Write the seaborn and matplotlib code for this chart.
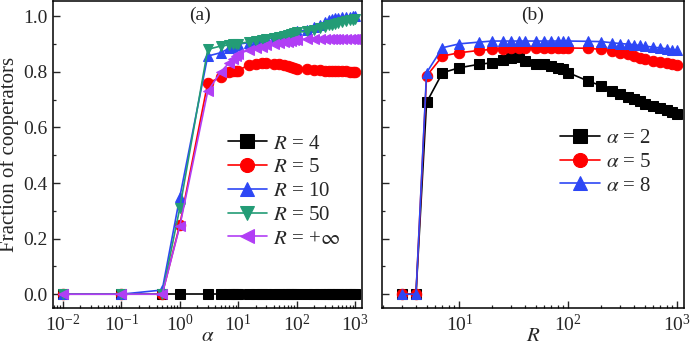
import numpy as np
import pandas as pd
import matplotlib
matplotlib.use("Agg")
import matplotlib.pyplot as plt
from matplotlib.ticker import LogLocator, MultipleLocator, NullFormatter
import seaborn as sns

# ---------------- data: panel (a) ----------------
alpha = [0.01, 0.1, 0.5, 1, 3, 5, 7, 8, 9, 10, 15, 20, 25, 30, 40, 50, 60, 70, 80, 90, 100,
         150, 200, 250, 300, 350, 400, 450, 500, 600, 700, 800, 900, 1000]
r4 = [0.0] * len(alpha)
r5 = [0.0, 0.0, 0.0, 0.25, 0.76, 0.78, 0.80, 0.805, 0.805, 0.805, 0.825, 0.83, 0.832, 0.832, 0.83, 0.827,
      0.824, 0.821, 0.818, 0.815, 0.812, 0.81, 0.808, 0.806, 0.805, 0.804, 0.804, 0.803, 0.803, 0.802,
      0.802, 0.801, 0.801, 0.80]
r10 = [0.0, 0.0, 0.015, 0.35, 0.857, 0.869, 0.885, 0.89, 0.895, 0.90, 0.905, 0.91, 0.915, 0.918, 0.922,
       0.926, 0.93, 0.934, 0.938, 0.942, 0.946, 0.95, 0.96, 0.97, 0.978, 0.985, 0.99, 0.993, 0.995, 0.997,
       0.998, 0.999, 1.0, 1.0]
r50 = [0.0, 0.0, 0.0, 0.31, 0.881, 0.893, 0.897, 0.899, 0.90, 0.902, 0.908, 0.912, 0.916, 0.919, 0.923,
       0.927, 0.93, 0.933, 0.936, 0.939, 0.942, 0.946, 0.952, 0.958, 0.963, 0.967, 0.97, 0.973, 0.976,
       0.979, 0.982, 0.985, 0.987, 0.99]
rinf = [0.0, 0.0, 0.0, 0.245, 0.73, 0.80, 0.833, 0.845, 0.857, 0.865, 0.878, 0.885, 0.89, 0.895, 0.90,
        0.903, 0.906, 0.909, 0.912, 0.914, 0.916, 0.918, 0.919, 0.92, 0.92, 0.92, 0.92, 0.92, 0.92, 0.92,
        0.92, 0.92, 0.92, 0.92]

# ---------------- data: panel (b) ----------------
R = [3, 4, 5, 7, 10, 15, 20, 25, 30, 35, 40, 50, 60, 70, 80, 90, 100, 150, 200, 250, 300, 350, 400,
     450, 500, 600, 700, 800, 900, 1000]
a2 = [0.0, 0.0, 0.69, 0.797, 0.815, 0.827, 0.833, 0.842, 0.849, 0.853, 0.839, 0.827, 0.829, 0.821,
      0.813, 0.809, 0.797, 0.768, 0.75, 0.732, 0.722, 0.71, 0.702, 0.694, 0.684, 0.678, 0.67, 0.663,
      0.657, 0.648]
a5 = [0.0, 0.0, 0.785, 0.857, 0.869, 0.877, 0.881, 0.884, 0.885, 0.885, 0.885, 0.885, 0.886, 0.886,
      0.886, 0.886, 0.886, 0.885, 0.881, 0.875, 0.869, 0.863, 0.857, 0.851, 0.845, 0.839, 0.835, 0.831,
      0.827, 0.824]
a8 = [0.0, 0.0, 0.797, 0.887, 0.901, 0.907, 0.911, 0.911, 0.911, 0.911, 0.911, 0.911, 0.911, 0.911,
      0.911, 0.911, 0.911, 0.91, 0.909, 0.905, 0.902, 0.90, 0.898, 0.895, 0.893, 0.889, 0.886, 0.883,
      0.880, 0.877]

labels_a = [r"$R$ = 4", r"$R$ = 5", r"$R$ = 10", r"$R$ = 50", r"$R$ = +$\infty$"]
labels_b = [r"$\alpha$ = 2", r"$\alpha$ = 5", r"$\alpha$ = 8"]

sns.set_style("ticks")
plt.rcParams["font.serif"] = ["Liberation Serif", "Times New Roman", "DejaVu Serif"]
plt.rcParams["font.family"] = "serif"
plt.rcParams["mathtext.fontset"] = "stix"
plt.rcParams["xtick.direction"] = "in"
plt.rcParams["ytick.direction"] = "in"

fig = plt.figure(figsize=(6.92, 3.45), dpi=100)
ax1 = fig.add_axes([0.0766, 0.107, 0.4465, 0.89])
ax2 = fig.add_axes([0.552, 0.107, 0.4364, 0.89])

col_black = "#000000"
col_red = "#FF0000"
col_blue = "#2D47F5"
col_green = "#239C76"
col_purple = "#B13EF5"

ms = 7.5
lw = 1.2
series_a = [(r4, col_black, "s"), (r5, col_red, "o"), (r10, col_blue, "^"),
            (r50, col_green, "v"), (rinf, col_purple, "<")]
for (vals, c, m), lab in zip(series_a, labels_a):
    df = pd.DataFrame({"x": alpha, "y": vals})
    sns.lineplot(data=df, x="x", y="y", ax=ax1, color=c, marker=m, markersize=ms,
                 markeredgecolor=c, linewidth=lw, label=lab, estimator=None, sort=True)

series_b = [(a2, col_black, "s"), (a5, col_red, "o"), (a8, col_blue, "^")]
for (vals, c, m), lab in zip(series_b, labels_b):
    df = pd.DataFrame({"x": R, "y": vals})
    sns.lineplot(data=df, x="x", y="y", ax=ax2, color=c, marker=m, markersize=ms,
                 markeredgecolor=c, linewidth=lw, label=lab, estimator=None, sort=True)

for ax in (ax1, ax2):
    ax.set_xscale("log")
    ax.set_ylim(-0.05, 1.055)
    ax.yaxis.set_major_locator(MultipleLocator(0.2))
    ax.yaxis.set_minor_locator(MultipleLocator(0.1))
    ax.xaxis.set_minor_locator(LogLocator(base=10, subs=np.arange(2, 10), numticks=20))
    ax.xaxis.set_minor_formatter(NullFormatter())
    ax.tick_params(which="major", length=5, width=1.0, labelsize=14, top=False, right=False, pad=4)
    ax.tick_params(which="minor", length=2.5, width=0.9, top=False, right=False)
    for s in ax.spines.values():
        s.set_linewidth(1.1)
        s.set_color("black")

ax1.set_xlim(0.0068, 1300)
ax1.xaxis.set_major_locator(LogLocator(base=10, numticks=20))
ax1.set_yticks([0.0, 0.2, 0.4, 0.6, 0.8, 1.0])
ax1.set_yticklabels(["0.0", "0.2", "0.4", "0.6", "0.8", "1.0"])
ax1.set_xlabel(r"$\alpha$", fontsize=15, labelpad=-6)
ax1.set_ylabel("Fraction of cooperators", fontsize=15, labelpad=3)

ax2.set_xlim(1.95, 1150)
ax2.set_yticks([0.0, 0.2, 0.4, 0.6, 0.8, 1.0])
ax2.set_yticklabels([])
ax2.set_xlabel(r"$R$", fontsize=15, labelpad=-6)
ax2.set_ylabel("")

ax1.text(0.475, 0.955, "(a)", transform=ax1.transAxes, fontsize=14, ha="center", va="center")
ax2.text(0.5, 0.955, "(b)", transform=ax2.transAxes, fontsize=14, ha="center", va="center")

ax1.legend(loc="upper left", bbox_to_anchor=(0.565, 0.567), frameon=False, fontsize=15,
           handlelength=1.9, handletextpad=0.3, labelspacing=0.2, markerscale=1.35,
           borderpad=0, borderaxespad=0)
ax2.legend(loc="upper left", bbox_to_anchor=(0.59, 0.585), frameon=False, fontsize=15,
           handlelength=1.9, handletextpad=0.3, labelspacing=0.2, markerscale=1.35,
           borderpad=0, borderaxespad=0)

fig.savefig("out.png", dpi=100)
